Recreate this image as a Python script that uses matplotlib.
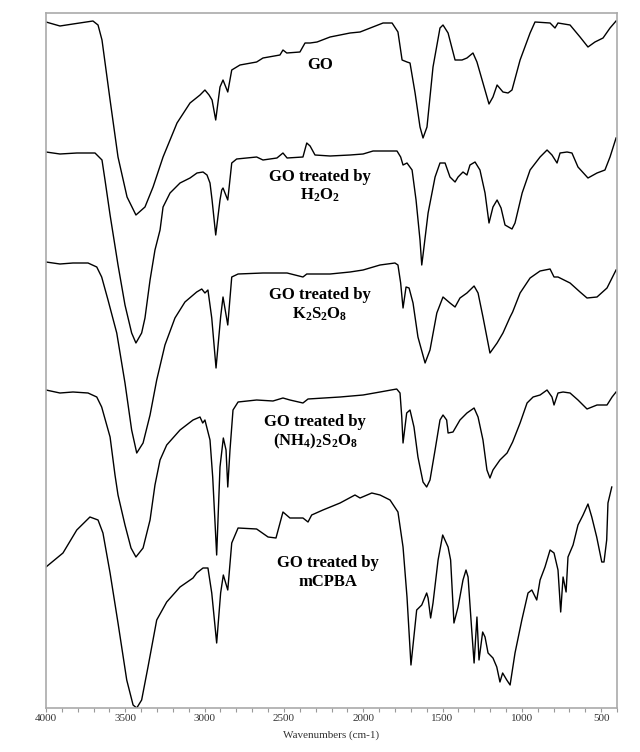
import matplotlib.pyplot as plt
from matplotlib.ticker import MultipleLocator

# FTIR spectra of GO and treated GO (stacked, arbitrary transmittance units)
wn_go = [4000, 3912, 3830, 3704, 3672, 3647, 3596, 3546, 3489, 3433, 3376, 3325, 3262, 3174, 3092,
         3029, 2998, 2972, 2953, 2930, 2903, 2884, 2854, 2829, 2777, 2672, 2632, 2525, 2506, 2482,
         2399, 2367, 2335, 2291, 2209, 2083, 2020, 1875, 1818, 1781, 1755, 1724, 1705, 1673, 1642,
         1623, 1598, 1560, 1516, 1497, 1465, 1421, 1377, 1346, 1308, 1283, 1245, 1207, 1182, 1156,
         1119, 1087, 1062, 1011, 948, 917, 822, 791, 772, 696, 633, 583, 539, 488, 444, 406]
t_go = [686, 682, 684, 687, 683, 668, 608, 551, 511, 493, 501, 521, 551, 585, 605,
        613, 618, 613, 608, 588, 621, 628, 616, 638, 643, 646, 650, 653, 658, 655,
        656, 665, 665, 666, 671, 675, 676, 685, 685, 676, 648, 646, 645, 615, 581,
        570, 581, 641, 680, 683, 675, 648, 648, 650, 655, 646, 625, 604, 611, 623,
        616, 615, 618, 648, 675, 686, 685, 680, 685, 683, 671, 661, 666, 670, 680, 687]

wn_h2o2 = [4000, 3912, 3805, 3691, 3647, 3628, 3596, 3546, 3502, 3460, 3433, 3397, 3376, 3344, 3313,
           3281, 3262, 3218, 3155, 3092, 3048, 3010, 2985, 2966, 2953, 2930, 2903, 2892, 2884, 2854,
           2829, 2798, 2672, 2632, 2544, 2506, 2480, 2380, 2356, 2335, 2304, 2209, 2083, 2001, 1938,
           1787, 1764, 1749, 1724, 1692, 1667, 1642, 1631, 1623, 1591, 1547, 1516, 1484, 1453, 1421,
           1402, 1371, 1346, 1327, 1295, 1264, 1232, 1207, 1182, 1156, 1131, 1106, 1062, 1043, 998,
           948, 885, 841, 810, 778, 759, 715, 684, 646, 583, 526, 476, 444, 406]
t_h2o2 = [556, 554, 555, 555, 548, 528, 493, 443, 403, 375, 365, 375, 390, 428, 458,
          478, 501, 515, 525, 530, 535, 536, 533, 525, 508, 473, 508, 518, 520, 508,
          545, 549, 551, 548, 550, 555, 550, 551, 565, 562, 553, 552, 553, 554, 557,
          557, 551, 543, 545, 538, 508, 468, 443, 453, 495, 531, 545, 545, 531, 526,
          531, 536, 533, 543, 546, 538, 515, 485, 501, 508, 500, 483, 479, 485, 515,
          538, 551, 558, 553, 545, 555, 556, 555, 541, 530, 535, 538, 551, 570]

wn_k2s2o8 = [4000, 3912, 3830, 3735, 3680, 3649, 3609, 3554, 3502, 3460, 3428, 3388, 3344, 3302, 3250,
             3187, 3124, 3050, 3018, 2998, 2979, 2955, 2928, 2899, 2884, 2854, 2829, 2789, 2632, 2480,
             2380, 2356, 2209, 2083, 2001, 1894, 1800, 1781, 1764, 1749, 1730, 1711, 1686, 1655, 1610,
             1579, 1536, 1497, 1453, 1421, 1390, 1346, 1301, 1276, 1245, 1201, 1156, 1119, 1074, 1058,
             1011, 948, 885, 822, 797, 772, 696, 633, 589, 526, 463, 406]
t_k2s2o8 = [446, 444, 445, 445, 441, 431, 408, 375, 325, 278, 255, 265, 293, 328, 363,
            390, 406, 416, 419, 415, 418, 390, 340, 391, 411, 383, 431, 434, 435, 435,
            431, 434, 434, 436, 438, 443, 445, 443, 425, 400, 421, 420, 405, 371, 345,
            358, 395, 411, 405, 401, 410, 415, 422, 415, 391, 355, 365, 375, 391, 396,
            415, 430, 437, 439, 431, 431, 425, 416, 410, 411, 420, 438]

wn_nh4 = [4000, 3912, 3830, 3735, 3680, 3649, 3596, 3565, 3546, 3502, 3464, 3433, 3388, 3344, 3313,
          3281, 3239, 3155, 3073, 3029, 3012, 2998, 2966, 2949, 2924, 2903, 2882, 2865, 2854, 2840,
          2821, 2789, 2672, 2569, 2506, 2462, 2380, 2348, 2146, 2001, 1894, 1789, 1768, 1757, 1749,
          1726, 1705, 1680, 1655, 1623, 1600, 1579, 1547, 1516, 1497, 1474, 1465, 1434, 1390, 1346,
          1301, 1276, 1245, 1220, 1201, 1182, 1138, 1093, 1058, 1011, 967, 929, 885, 841, 810,
          797, 772, 740, 696, 646, 589, 526, 463, 431, 406]
t_nh4 = [318, 315, 316, 315, 311, 301, 271, 233, 213, 183, 160, 151, 160, 188, 223,
         248, 263, 278, 288, 291, 285, 288, 268, 231, 153, 241, 270, 258, 221, 258,
         298, 306, 308, 307, 310, 308, 305, 309, 311, 313, 316, 319, 315, 291, 265,
         295, 298, 281, 251, 226, 221, 228, 258, 288, 293, 288, 275, 276, 288, 295,
         300, 291, 268, 238, 230, 238, 248, 255, 266, 285, 305, 311, 313, 318, 311,
         303, 315, 316, 315, 308, 299, 303, 303, 311, 316]

wn_mcpba = [4000, 3893, 3806, 3723, 3672, 3641, 3596, 3546, 3491, 3451, 3428, 3397, 3357, 3302, 3239,
            3155, 3073, 3050, 3010, 2979, 2955, 2924, 2899, 2882, 2854, 2829, 2789, 2672, 2600, 2550,
            2506, 2462, 2380, 2348, 2325, 2254, 2146, 2052, 2020, 1946, 1894, 1831, 1781, 1749, 1724,
            1699, 1663, 1631, 1600, 1591, 1575, 1560, 1528, 1499, 1465, 1449, 1428, 1402, 1371, 1352,
            1339, 1316, 1301, 1283, 1270, 1247, 1232, 1213, 1182, 1158, 1138, 1121, 1095, 1074, 1043,
            1000, 961, 937, 906, 885, 854, 822, 797, 772, 755, 740, 721, 709, 677, 646,
            614, 583, 559, 528, 496, 482, 465, 457, 433]
t_mcpba = [141, 155, 178, 191, 188, 175, 135, 85, 28, 3, 0, 8, 41, 88, 106,
           121, 130, 135, 140, 140, 115, 65, 115, 133, 118, 165, 180, 179, 171, 170,
           196, 190, 190, 186, 193, 198, 205, 213, 210, 215, 213, 208, 196, 161, 111,
           43, 98, 103, 115, 110, 90, 105, 148, 173, 161, 148, 85, 101, 128, 138,
           131, 78, 45, 91, 48, 76, 71, 55, 50, 41, 26, 35, 28, 23, 55,
           88, 115, 118, 108, 128, 141, 158, 155, 138, 96, 131, 116, 151, 163, 183,
           193, 204, 191, 171, 146, 146, 168, 205, 221]

xticks = [4000, 3500, 3000, 2500, 2000, 1500, 1000, 500]

plt.rcParams['font.family'] = ['Liberation Serif', 'DejaVu Serif']
plt.rcParams['mathtext.fontset'] = 'custom'
plt.rcParams['mathtext.bf'] = 'Liberation Serif:bold'
plt.rcParams['mathtext.rm'] = 'Liberation Serif:bold'

fig = plt.figure(figsize=(6.4, 7.52), dpi=100)
ax = fig.add_axes([46 / 640, 1 - 708 / 752, 571 / 640, 695 / 752])

for wn, t in [(wn_go, t_go), (wn_h2o2, t_h2o2), (wn_k2s2o8, t_k2s2o8),
              (wn_nh4, t_nh4), (wn_mcpba, t_mcpba)]:
    ax.plot(wn, t, color='black', lw=1.0)

ax.set_xlim(4000, 400)
ax.set_ylim(0, 695)
ax.set_yticks([])
ax.set_xticks(xticks)
ax.set_xticklabels([str(v) for v in xticks], fontsize=8, color='#333333')
ax.xaxis.set_minor_locator(MultipleLocator(100))
ax.tick_params(axis='x', which='both', direction='out', length=3, width=0.8,
               color='#999999', pad=1.5)
for s in ax.spines.values():
    s.set_color('#aaaaaa')
    s.set_linewidth(1.2)
ax.set_xlabel('Wavenumbers (cm-1)', fontsize=8, color='#333333', labelpad=5)

# Step: sample labels
lab = dict(ha='center', va='center', fontsize=12, fontweight='bold')
ax.text(2272, 643, 'GO', **lab)
ax.text(2272, 531, 'GO treated by', **lab)
ax.text(2272, 513, r'$\mathbf{H_2O_2}$', **lab)
ax.text(2272, 413, 'GO treated by', **lab)
ax.text(2272, 394, r'$\mathbf{K_2S_2O_8}$', **lab)
ax.text(2304, 286, 'GO treated by', **lab)
ax.text(2304, 267, r'$\mathbf{(NH_4)_2S_2O_8}$', **lab)
ax.text(2222, 145, 'GO treated by', **lab)
ax.text(2222, 126, 'mCPBA', **lab)

fig.savefig('out.png', dpi=100)
